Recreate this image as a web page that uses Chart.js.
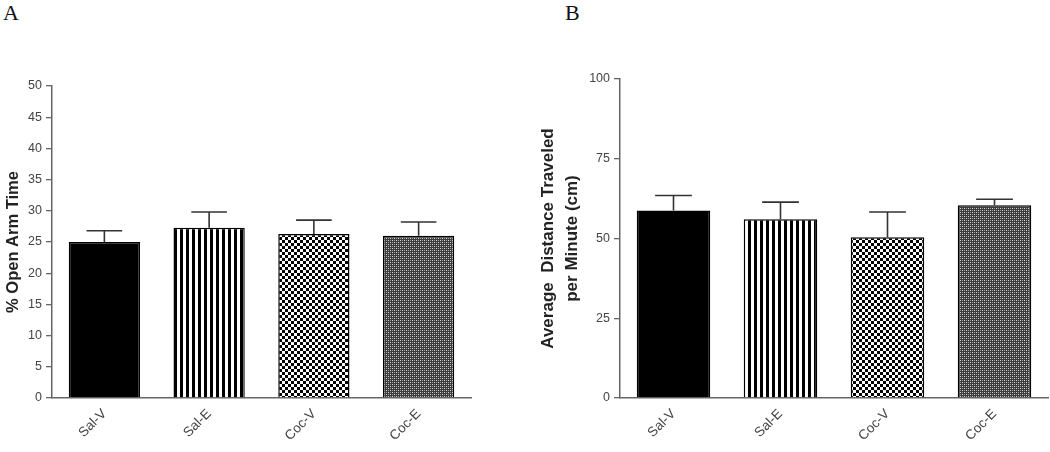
<!DOCTYPE html>
<html>
<head>
<meta charset="utf-8">
<script src="https://cdn.jsdelivr.net/npm/chart.js@4/dist/chart.umd.min.js"></script>
<style>
  body { margin: 0; background: #fff; }
  #wrap { position: relative; width: 1050px; height: 452px; overflow: hidden; }
  canvas { position: absolute; top: 0; }
  #leftCanvas { left: 0; }
  #rightCanvas { left: 520px; }
  .panel { position: absolute; top: 0px; font-family: "Liberation Serif", "DejaVu Serif", serif; font-size: 22px; color: #111; }
</style>
</head>
<body>
<div id="wrap">
  <div class="panel" style="left:3px">A</div>
  <div class="panel" style="left:565px">B</div>
  <canvas id="leftCanvas" width="490" height="452"></canvas>
  <canvas id="rightCanvas" width="530" height="452"></canvas>
</div>
<script>
// groups and values
const groups = ["Sal-V", "Sal-E", "Coc-V", "Coc-E"];
const openArmMean = [25.0, 27.3, 26.3, 26.0];
const openArmSem = [1.8, 2.5, 2.2, 2.2];
const distanceMean = [58.8, 56.0, 50.4, 60.4];
const distanceSem = [4.7, 5.4, 7.9, 1.9];
const openArmMax = 50, openArmStep = 5;
const distanceMax = 100, distanceStep = 25;

// fill patterns for the bars
function makePattern(size, draw) {
  const c = document.createElement("canvas");
  c.width = size; c.height = size;
  const g = c.getContext("2d");
  draw(g);
  return g.createPattern(c, "repeat");
}
const solid = "#000";
const stripes = makePattern(6, g => {
  g.fillStyle = "#fff"; g.fillRect(0, 0, 6, 6);
  g.fillStyle = "#000"; g.fillRect(0, 0, 3, 6);
});
const checker = makePattern(6, g => {
  g.fillStyle = "#fff"; g.fillRect(0, 0, 6, 6);
  g.fillStyle = "#000"; g.fillRect(0, 0, 3, 3); g.fillRect(3, 3, 3, 3);
});
const fineChecker = makePattern(4, g => {
  g.fillStyle = "#3c3c3c"; g.fillRect(0, 0, 4, 4);
  g.fillStyle = "#d8d8d8"; g.fillRect(0, 0, 1, 1); g.fillRect(2, 2, 1, 1);
  g.fillStyle = "#9a9a9a"; g.fillRect(2, 0, 1, 1); g.fillRect(0, 2, 1, 1);
});
const fills = [solid, stripes, checker, fineChecker];

// upper SEM whiskers
const errorBars = {
  id: "errorBars",
  afterDatasetsDraw(chart) {
    const ctx = chart.ctx;
    const yScale = chart.scales.y;
    chart.data.datasets.forEach((ds, di) => {
      const meta = chart.getDatasetMeta(di);
      meta.data.forEach((bar, i) => {
        const top = yScale.getPixelForValue(ds.data[i] + ds.sem[i]);
        const half = bar.width * 0.25;
        ctx.save();
        ctx.strokeStyle = "#333";
        ctx.lineWidth = 1.6;
        ctx.beginPath();
        ctx.moveTo(bar.x, bar.y);
        ctx.lineTo(bar.x, top);
        ctx.moveTo(bar.x - half, top);
        ctx.lineTo(bar.x + half, top);
        ctx.stroke();
        ctx.restore();
      });
    });
  }
};

function makeChart(id, values, sem, max, step, title, o) {
  return new Chart(document.getElementById(id), {
    type: "bar",
    data: {
      labels: groups,
      datasets: [{
        data: values,
        sem: sem,
        backgroundColor: fills,
        borderColor: "#000",
        borderWidth: 1.5,
        barPercentage: o.barPct,
        categoryPercentage: 1
      }]
    },
    options: {
      responsive: false,
      animation: false,
      layout: { padding: { top: o.top, right: o.right, left: 0, bottom: 0 } },
      plugins: { legend: { display: false }, tooltip: { enabled: false } },
      scales: {
        x: {
          afterFit: s => { s.height = 54; },
          grid: { display: false, drawTicks: false },
          border: { display: true, color: "#666", width: 1.5 },
          ticks: {
            autoSkip: false, minRotation: 45, maxRotation: 45, padding: 8,
            color: "#444", font: { family: "'Liberation Sans', Arial", size: 13.5 }
          }
        },
        y: {
          min: 0, max: max,
          afterFit: s => { s.width = o.axisX; },
          grid: { drawOnChartArea: false, tickLength: 6, color: "#666", lineWidth: 1.3 },
          border: { display: true, color: "#666", width: 1.5 },
          ticks: {
            stepSize: step, padding: 4,
            color: "#444", font: { family: "'Liberation Sans', Arial", size: 12.5 }
          },
          title: {
            display: true, text: title, color: "#222",
            font: { family: "'Liberation Sans', Arial", size: o.titleSize, weight: "bold", lineHeight: o.lh },
            padding: { top: o.titlePad, bottom: 0 }
          }
        }
      }
    },
    plugins: [errorBars]
  });
}

makeChart("leftCanvas", openArmMean, openArmSem, openArmMax, openArmStep,
  "% Open Arm Time",
  { top: 86, right: 19, axisX: 52, barPct: 0.68, titleSize: 16.5, lh: 1.15, titlePad: 4 });

makeChart("rightCanvas", distanceMean, distanceSem, distanceMax, distanceStep,
  ["Average  Distance Traveled", "per Minute (cm)"],
  { top: 79, right: 2, axisX: 100, barPct: 0.687, titleSize: 17, lh: 1.41, titlePad: 16 });
</script>
</body>
</html>
